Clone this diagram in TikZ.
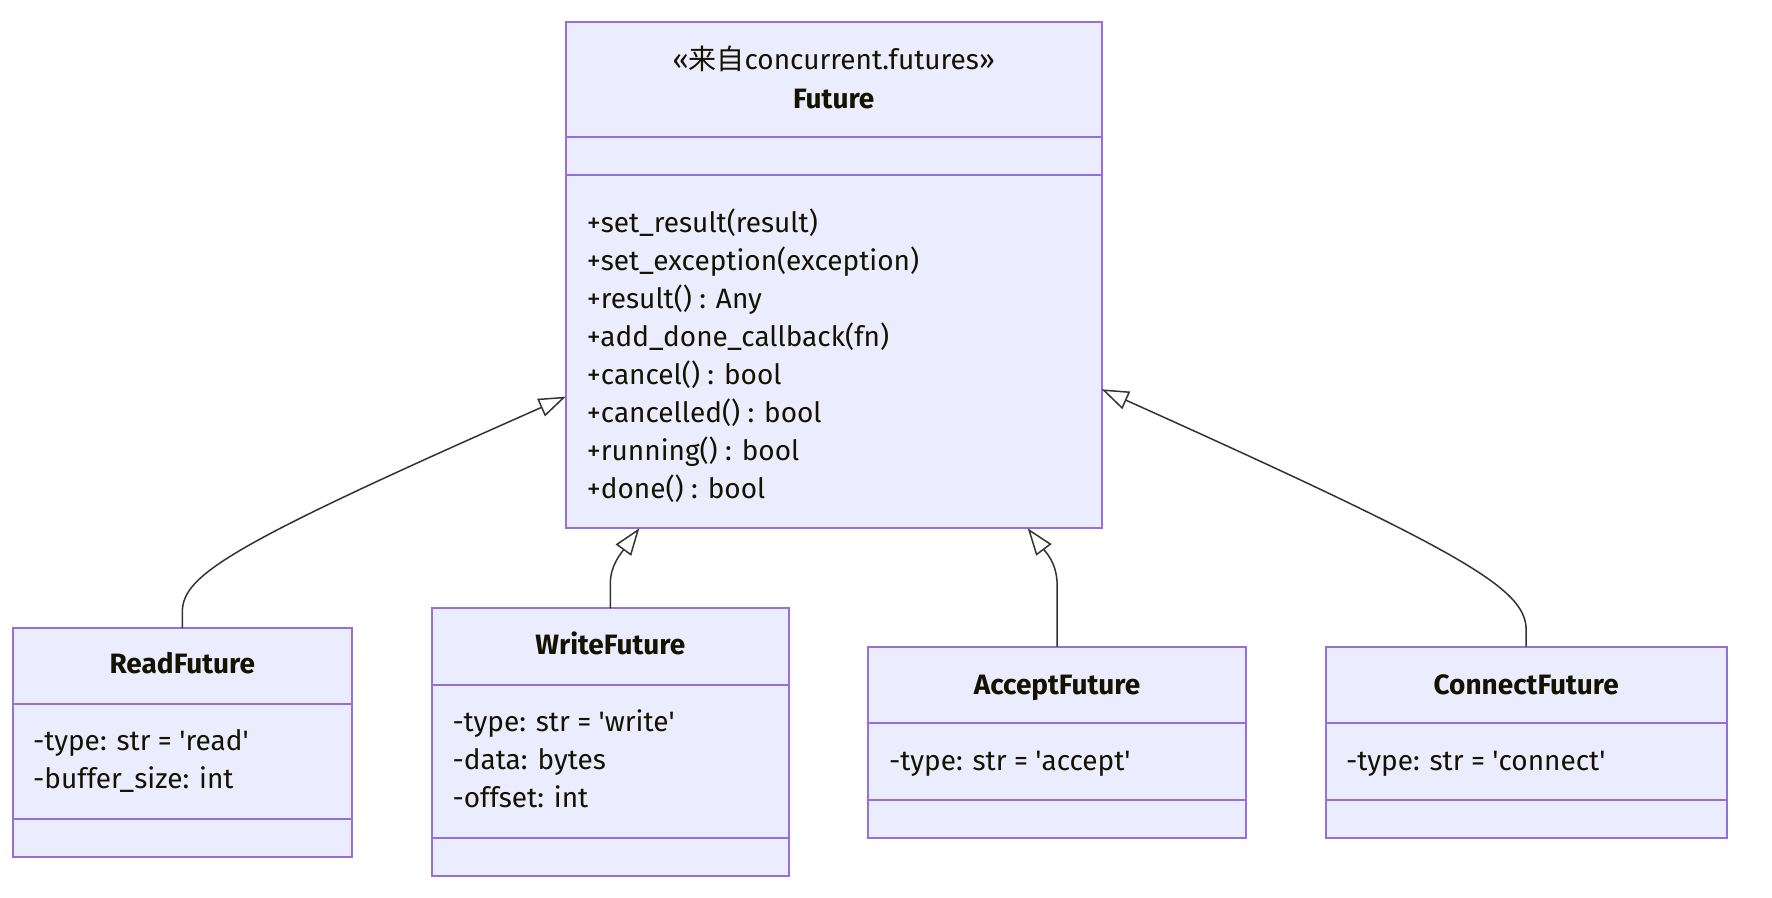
\documentclass[tikz,border=0pt]{standalone}
\usepackage{fontspec}
\setmainfont{Fira Sans}
\newfontfamily\cjkfont{Noto Sans CJK SC}
\usetikzlibrary{arrows.meta}

\definecolor{boxfill}{HTML}{ECECFF}
\definecolor{boxline}{HTML}{9370DB}
\definecolor{edgeline}{HTML}{333333}
\definecolor{ink}{HTML}{131300}

\newcommand{\sq}{\textquotesingle}

\tikzset{
  classbox/.style={rectangle, draw=boxline, fill=boxfill, line width=1.8pt,
    anchor=north west, inner sep=0pt, outer sep=0pt},
  divider/.style={draw=boxline, line width=1.8pt},
  member/.style={anchor=base west, inner sep=0pt, text=ink,
    font=\fontsize{28pt}{38pt}\selectfont},
  classname/.style={anchor=base, inner sep=0pt, text=ink,
    font=\fontsize{28pt}{38pt}\selectfont\bfseries},
  stereo/.style={anchor=base, inner sep=0pt, text=ink,
    font=\fontsize{28pt}{38pt}\selectfont},
  inherit/.style={draw=edgeline, line width=1.5pt,
    -{Triangle[open, length=27pt, width=19pt]}},
}

\begin{document}
\begin{tikzpicture}[x=1pt, y=-1pt]
\useasboundingbox (0,0) rectangle (1772,897);

% ---------- Future ----------
\node[classbox, minimum width=536pt, minimum height=506.3pt] (future) at (565.7,22) {};
\draw[divider] ([yshift=-114.7pt]future.north west) -- ([yshift=-114.7pt]future.north east);
\draw[divider] ([yshift=-152.7pt]future.north west) -- ([yshift=-152.7pt]future.north east);
\node[stereo] (fst) at (833.7,69) {«{\cjkfont 来自}concurrent.futures»};
\node[classname] (fname) at (833.7,108) {Future};
\node[member] (fm1) at (586.7,232) {+set\_result(result)};
\node[member] (fm2) at (586.7,270) {+set\_exception(exception)};
\node[member] (fm3) at (586.7,308) {+result() : Any};
\node[member] (fm4) at (586.7,346) {+add\_done\_callback(fn)};
\node[member] (fm5) at (586.7,384) {+cancel() : bool};
\node[member] (fm6) at (586.7,422) {+cancelled() : bool};
\node[member] (fm7) at (586.7,460) {+running() : bool};
\node[member] (fm8) at (586.7,498) {+done() : bool};

% ---------- ReadFuture ----------
\node[classbox, minimum width=339.3pt, minimum height=229pt] (read) at (12.7,628) {};
\draw[divider] ([yshift=-76pt]read.north west) -- ([yshift=-76pt]read.north east);
\draw[divider] ([yshift=-191pt]read.north west) -- ([yshift=-191pt]read.north east);
\node[classname] (rname) at (182.3,673.5) {ReadFuture};
\node[member] (ra1) at (33,750) {-type: str = \sq{}read\sq};
\node[member] (ra2) at (33,788) {-buffer\_size: int};

% ---------- WriteFuture ----------
\node[classbox, minimum width=357.3pt, minimum height=267.7pt] (write) at (431.7,608.3) {};
\draw[divider] ([yshift=-76.7pt]write.north west) -- ([yshift=-76.7pt]write.north east);
\draw[divider] ([yshift=-230pt]write.north west) -- ([yshift=-230pt]write.north east);
\node[classname] (wname) at (610.3,654.5) {WriteFuture};
\node[member] (wa1) at (452.3,731) {-type: str = \sq{}write\sq};
\node[member] (wa2) at (452.3,769) {-data: bytes};
\node[member] (wa3) at (452.3,807) {-offset: int};

% ---------- AcceptFuture ----------
\node[classbox, minimum width=377.7pt, minimum height=191pt] (accept) at (868.3,646.7) {};
\draw[divider] ([yshift=-76.6pt]accept.north west) -- ([yshift=-76.6pt]accept.north east);
\draw[divider] ([yshift=-153.3pt]accept.north west) -- ([yshift=-153.3pt]accept.north east);
\node[classname] (aname) at (1057,694) {AcceptFuture};
\node[member] (aa1) at (889,770) {-type: str = \sq{}accept\sq};

% ---------- ConnectFuture ----------
\node[classbox, minimum width=401pt, minimum height=191pt] (connect) at (1325.7,646.7) {};
\draw[divider] ([yshift=-76.6pt]connect.north west) -- ([yshift=-76.6pt]connect.north east);
\draw[divider] ([yshift=-153.3pt]connect.north west) -- ([yshift=-153.3pt]connect.north east);
\node[classname] (cname) at (1526.2,694) {ConnectFuture};
\node[member] (ca1) at (1346,770) {-type: str = \sq{}connect\sq};

% ---------- inheritance arrows ----------
\coordinate (fL) at ([yshift=-374.7pt]future.north west);
\coordinate (fR) at ([yshift=-367.3pt]future.north east);
\coordinate (fW) at ([xshift=73.6pt]future.south west);
\coordinate (fA) at ([xshift=-74pt]future.south east);

\draw[inherit] (read.north) -- ++(0,-16)
  .. controls (182.3,575) and (230,545) .. (fL);
\draw[inherit] (write.north) -- ++(0,-25)
  .. controls (610.3,565) and (622,552) .. (fW);
\draw[inherit] (accept.north) -- ++(0,-62)
  .. controls (1057,562) and (1044,550) .. (fA);
\draw[inherit] (connect.north) -- ++(0,-16)
  .. controls (1526.2,589.7) and (1473.2,556.3) .. (fR);
\end{tikzpicture}
\end{document}
